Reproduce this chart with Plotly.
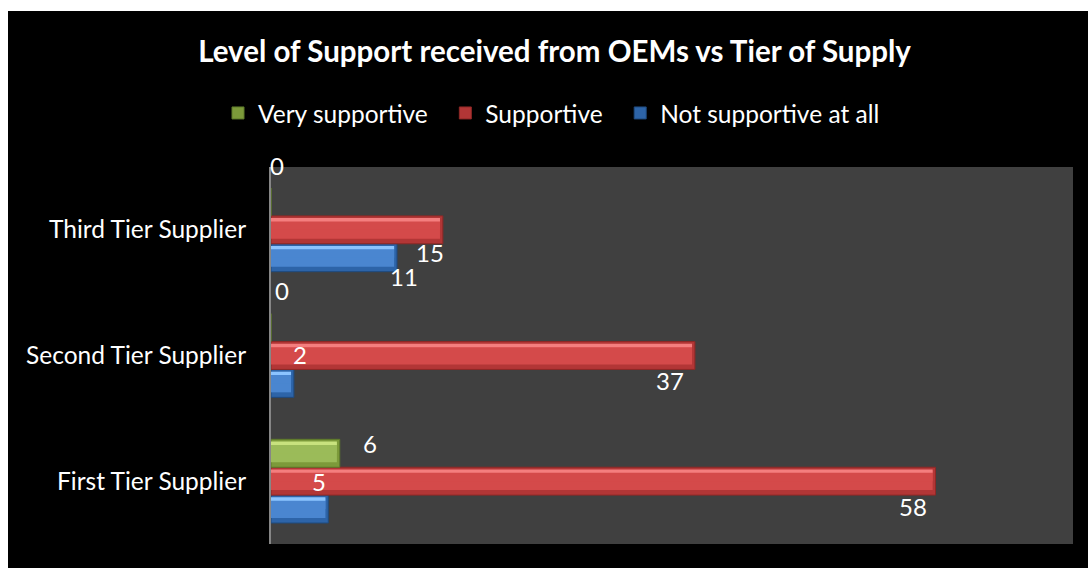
import plotly.graph_objects as go

# Survey counts per supplier tier
categories = ["First Tier Supplier", "Second Tier Supplier", "Third Tier Supplier"]
very_supportive = [6, 0, 0]
supportive = [58, 37, 15]
not_supportive = [5, 2, 11]

FONT = "Lato"
NBSP = "\u00a0"

# name, legend text, values, bar offset within the category band, bevel palette
series = [
    ("Not supportive at all", "Not supportive at all", not_supportive, -0.333,
     ("#1F4A7E", "#2D64A8", "#4A86D0", "#8CC4FF")),
    ("Supportive", "Supportive" + NBSP * 2, supportive, -0.111,
     ("#8E2826", "#B23636", "#D44A4A", "#F47E7E")),
    ("Very supportive", "Very supportive" + NBSP * 2, very_supportive, 0.111,
     ("#5E7A2A", "#7C9A3A", "#9BBB59", "#C8E27E")),
]
BAR_W = 0.222
END_INSET = 0.25  # in value units: darker bevel at the bar ends

# label pixel nudges (dx, dy) per series, per category
label_shift = {
    "Very supportive": [(30, 38), (11, 65), (6, 64)],
    "Supportive": [(-23, -25), (-25, -25), (-13, -23)],
    "Not supportive at all": [(-9, 0), (6, 1), (7, -47)],
}

legend_rank = {"Very supportive": 1, "Supportive": 2, "Not supportive at all": 3}

fig = go.Figure()

for key, label, vals, off, (edge, low, mid, high) in series:
    # outer bar (edge colour) carries the legend entry
    fig.add_trace(go.Bar(
        y=categories, x=vals, orientation="h", name=label,
        offset=off, width=BAR_W, marker=dict(color=low, line=dict(color=edge, width=1)),
        legendrank=legend_rank[key], showlegend=True,
    ))
    inner = [max(v - END_INSET, 0) for v in vals]
    # body and top highlight bands of the bevel
    bands = [
        (0.18, 0.70, mid),
        (0.50, 0.30, mid),
        (0.80, 0.12, high),
    ]
    for start, frac, col in bands:
        fig.add_trace(go.Bar(
            y=categories, x=inner, orientation="h",
            offset=off + start * BAR_W, width=frac * BAR_W,
            marker=dict(color=col, line=dict(width=0)),
            showlegend=False, hoverinfo="skip",
        ))

annotations = []
for key, _, vals, off, _ in series:
    for cat, v, (dx, dy) in zip(categories, vals, label_shift[key]):
        annotations.append(dict(
            x=v, y=cat, xref="x", yref="y", text=str(v), showarrow=False,
            xanchor="center", yanchor="middle", xshift=dx, yshift=dy,
            font=dict(family=FONT, size=24, color="white"),
        ))

fig.update_layout(
    width=1088, height=568,
    barmode="overlay",
    paper_bgcolor="white",
    plot_bgcolor="#404040",
    margin=dict(l=271, r=15, t=167, b=24),
    title=dict(
        text="<b>Level of Support received from OEMs vs Tier of Supply</b>",
        x=0.5097, xref="container", xanchor="center",
        y=1 - 52 / 568, yref="container", yanchor="middle",
        font=dict(family=FONT, size=29.5, color="white"),
    ),
    legend=dict(
        orientation="h", x=(218 - 271) / 802, xanchor="left", y=1.1432, yanchor="middle",
        font=dict(family=FONT, size=24.5, color="white"),
        bgcolor="rgba(0,0,0,0)", traceorder="normal",
    ),
    xaxis=dict(range=[0, 70], showgrid=False, zeroline=False, showticklabels=False,
               showline=False, fixedrange=True),
    yaxis=dict(type="category", categoryorder="array", categoryarray=categories,
               range=[-0.5, 2.5], showgrid=False, zeroline=False,
               showline=True, linecolor="#868686", linewidth=2,
               ticks="", ticklabelstandoff=18,
               tickfont=dict(family=FONT, size=24.5, color="white")),
    annotations=annotations,
    shapes=[
        # dark chart frame
        dict(type="rect", xref="paper", yref="paper", layer="below",
             x0=(8 - 271) / 802, x1=(1090 - 271) / 802,
             y0=(544 - 570) / 377, y1=(544 - 11) / 377,
             fillcolor="black", line=dict(width=0)),
        # plot area fill
        dict(type="rect", xref="paper", yref="paper", layer="below",
             x0=0, x1=1, y0=0, y1=1, fillcolor="#404040", line=dict(width=0)),
    ],
    showlegend=True,
)

fig.write_html("out.html")
